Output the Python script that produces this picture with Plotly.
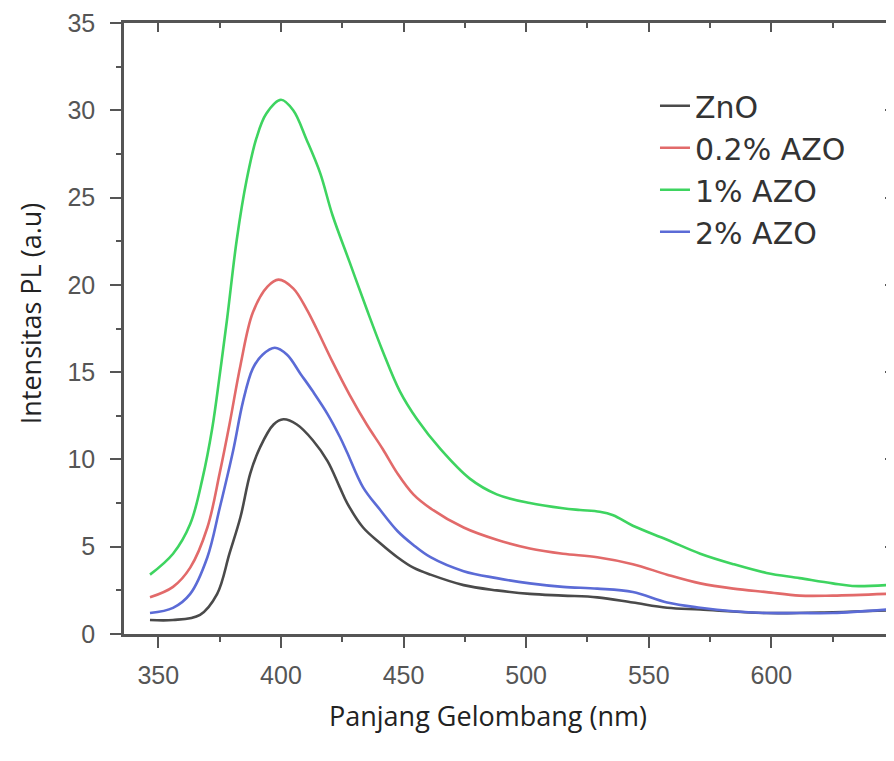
import plotly.graph_objects as go

# ---- data (wavelength nm, PL intensity a.u.) ----
zno_x = [346.6, 356, 367, 374, 379, 383.5, 387.5, 391.5, 397, 401, 406.5, 413, 419, 424, 427,
         433.5, 440.5, 447.5, 454, 461, 474.5, 488, 501.5, 515, 529, 543.5, 557.5, 571, 598, 625, 647]
zno_y = [0.8, 0.8, 1.1, 2.3, 4.6, 6.7, 9.2, 10.7, 12.0, 12.3, 12.0, 11.1, 9.9, 8.4, 7.5,
         6.1, 5.2, 4.4, 3.8, 3.4, 2.8, 2.5, 2.3, 2.2, 2.1, 1.8, 1.5, 1.4, 1.2, 1.25, 1.35]

azo02_x = [346.6, 356, 363, 370, 375, 379, 383.5, 388.5, 394.5, 399, 405, 410.5, 414.5, 421, 428,
           435, 441.5, 447.5, 454, 461, 474.5, 488, 501.5, 515, 529, 543.5, 557.5, 571, 584.5,
           598, 611.5, 625, 647]
azo02_y = [2.1, 2.7, 3.8, 6.1, 9.2, 12.0, 15.4, 18.4, 19.9, 20.3, 19.8, 18.6, 17.5, 15.6, 13.7,
           12.0, 10.6, 9.2, 8.0, 7.2, 6.1, 5.4, 4.9, 4.6, 4.4, 4.0, 3.4, 2.9, 2.6,
           2.4, 2.2, 2.2, 2.3]

azo1_x = [346.6, 356, 363, 368, 372, 375, 378, 382, 386, 390, 394, 400, 405, 410.5, 416, 421,
          428, 435, 441.5, 448.5, 455.5, 465, 477, 488, 501.5, 515, 522, 530, 535.5, 543.5,
          557.5, 571, 584.5, 598, 611.5, 625, 633, 647]
azo1_y = [3.4, 4.6, 6.3, 8.9, 11.8, 14.8, 18.0, 22.6, 26.0, 28.4, 29.8, 30.6, 30.0, 28.3, 26.4, 24.0,
          21.3, 18.6, 16.2, 13.9, 12.3, 10.6, 8.9, 8.0, 7.5, 7.2, 7.1, 7.0, 6.8, 6.2,
          5.4, 4.6, 4.0, 3.5, 3.2, 2.9, 2.75, 2.8]

azo2_x = [346.6, 356, 363, 370, 375, 380.5, 384.5, 388.5, 392.5, 397.5, 402.5, 408, 413, 419, 424,
          427, 433.5, 440.5, 447.5, 454, 461, 474.5, 488, 501.5, 515, 529, 543.5, 557.5, 571,
          584.5, 598, 611.5, 625, 647]
azo2_y = [1.2, 1.5, 2.3, 4.4, 7.2, 10.5, 13.3, 15.2, 16.0, 16.4, 16.0, 14.9, 13.9, 12.6, 11.3,
          10.4, 8.4, 7.1, 5.9, 5.1, 4.4, 3.6, 3.2, 2.9, 2.7, 2.6, 2.4, 1.8, 1.5,
          1.3, 1.2, 1.2, 1.2, 1.4]

series_names = ["ZnO", "0.2% AZO", "1% AZO", "2% AZO"]
series_colors = ["#4a4a4a", "#e26a6a", "#3ed460", "#5b6bd6"]
x_ticks = [350, 400, 450, 500, 550, 600]
y_ticks = [0, 5, 10, 15, 20, 25, 30, 35]
x_range = [336, 650]
y_range = [0, 35]

AX = "#555555"
TICKFONT = dict(family="Liberation Sans, Arial, sans-serif", size=25, color="#555555")
TITLEFONT = dict(family="Open Sans, Noto Sans, sans-serif", size=27, color="#222222")

fig = go.Figure()
for xs, ys, name, col in zip([zno_x, azo02_x, azo1_x, azo2_x],
                             [zno_y, azo02_y, azo1_y, azo2_y],
                             series_names, series_colors):
    fig.add_trace(go.Scatter(x=xs, y=ys, name=name, mode="lines",
                             line=dict(color=col, width=2.6, shape="spline", smoothing=1.0)))

# dummy trace so mirrored top/right axes (ticks inside) are drawn
fig.add_trace(go.Scatter(x=[None], y=[None], xaxis="x2", yaxis="y2",
                         showlegend=False, hoverinfo="skip"))

common_x = dict(range=x_range, tickmode="array", tickvals=x_ticks, automargin=False,
                showgrid=False, zeroline=False, showline=True, linecolor=AX, linewidth=2.5,
                tickcolor=AX, tickwidth=2)
common_y = dict(range=y_range, tickmode="array", tickvals=y_ticks, automargin=False,
                showgrid=False, zeroline=False, showline=True, linecolor=AX, linewidth=2.5,
                tickcolor=AX, tickwidth=2)

fig.update_layout(
    width=886, height=753,
    margin=dict(l=116, r=0, t=15, b=127, autoexpand=False),
    paper_bgcolor="white", plot_bgcolor="white",
    xaxis=dict(**common_x, ticks="outside", ticklen=11, tickfont=TICKFONT,
               ticklabelstandoff=6, ticklabeloverflow="allow",
               minor=dict(tick0=325, dtick=25, ticks="outside", ticklen=5, tickcolor=AX, tickwidth=2)),
    yaxis=dict(**common_y, ticks="outside", ticklen=11, tickfont=TICKFONT,
               ticklabelstandoff=10, ticklabeloverflow="allow",
               minor=dict(tick0=0, dtick=2.5, ticks="outside", ticklen=5, tickcolor=AX, tickwidth=2)),
    xaxis2=dict(**common_x, overlaying="x", side="top", anchor="y2", ticks="inside", ticklen=9,
                showticklabels=False,
                minor=dict(tick0=325, dtick=25, ticks="inside", ticklen=5, tickcolor=AX, tickwidth=2)),
    yaxis2=dict(**common_y, overlaying="y", side="right", anchor="x2", ticks="inside", ticklen=9,
                showticklabels=False,
                minor=dict(tick0=0, dtick=2.5, ticks="inside", ticklen=5, tickcolor=AX, tickwidth=2)),
    legend=dict(x=0.6896, y=0.907, xanchor="left", yanchor="top",
                bgcolor="rgba(0,0,0,0)", borderwidth=0, tracegroupgap=0,
                font=dict(family="DejaVu Sans, Liberation Sans, sans-serif", size=30, color="#333333")),
    showlegend=True,
    annotations=[
        dict(text="Panjang Gelombang (nm)", xref="paper", yref="paper", x=0.4727, y=-0.134,
             xanchor="center", yanchor="middle", showarrow=False, font=TITLEFONT),
        dict(text="Intensitas PL (a.u)", xref="paper", yref="paper", x=-0.122, y=0.525,
             xanchor="center", yanchor="middle", textangle=-90, showarrow=False, font=TITLEFONT),
    ],
)

fig.write_html("out.html")
